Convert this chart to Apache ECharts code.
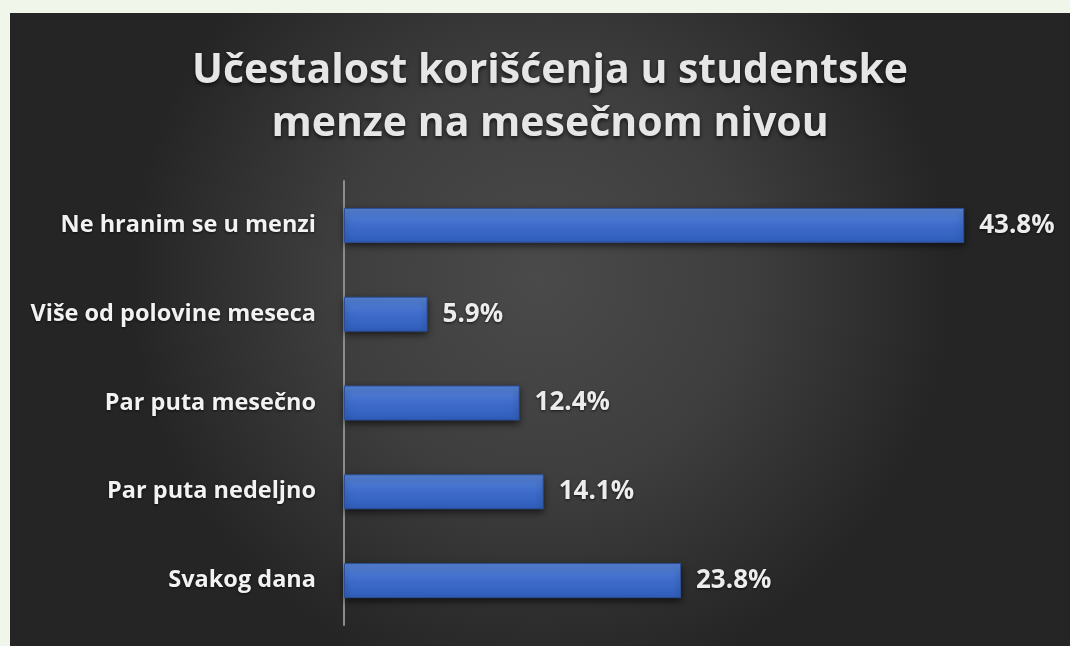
<!DOCTYPE html>
<html>
<head>
<meta charset="utf-8">
<script src="https://cdn.jsdelivr.net/npm/echarts@6/dist/echarts.min.js"></script>
<style>
  html, body { margin: 0; padding: 0; background: #f1f6ea; }
  #main { width: 1070px; height: 646px; }
</style>
</head>
<body>
<div id="main"></div>
<script>
const categories = ['Svakog dana', 'Par puta nedeljno', 'Par puta mesečno', 'Više od polovine meseca', 'Ne hranim se u menzi']
const values = [23.8, 14.1, 12.4, 5.9, 43.8]
const titleLines = ['Učestalost korišćenja u studentske', 'menze na mesečnom nivou']

const myChart = echarts.init(document.getElementById('main'))

myChart.setOption({
    backgroundColor: '#f1f6ea',
    graphic: [{
        type: 'rect',
        z: -10,
        silent: true,
        shape: { x: 10, y: 13, width: 1060, height: 633 },
        style: {
            fill: new echarts.graphic.RadialGradient(0.5, 0.42, 0.65, [
                { offset: 0, color: '#4a4a4a' },
                { offset: 0.5, color: '#3e3e3e' },
                { offset: 1, color: '#252525' }
            ])
        }
    }],
    title: {
        text: titleLines.join('\n'),
        left: 545,
        textAlign: 'center',
        top: 40,
        textStyle: {
            color: '#e6e6e6',
            fontFamily: 'Open Sans',
            fontWeight: 'bold',
            fontSize: 41,
            lineHeight: 53,
            textShadowColor: 'rgba(0,0,0,0.7)',
            textShadowBlur: 4,
            textShadowOffsetY: 2
        }
    },
    grid: {
        left: 344,
        top: 181,
        bottom: 21,
        right: 18,
        containLabel: false
    },
    xAxis: {
        type: 'value',
        min: 0,
        max: 50,
        show: false
    },
    yAxis: {
        type: 'category',
        data: categories,
        axisLine: { show: true, lineStyle: { color: '#8c8c8c', width: 2 } },
        axisTick: { show: false },
        axisLabel: {
            margin: 28,
            color: '#f2f2f2',
            fontFamily: 'Open Sans',
            fontWeight: 'bold',
            fontSize: 23.5,
            textShadowColor: 'rgba(0,0,0,0.7)',
            textShadowBlur: 3,
            textShadowOffsetY: 1
        },
        splitLine: { show: false }
    },
    series: [{
        type: 'bar',
        data: values,
        barWidth: 35,
        itemStyle: {
            color: new echarts.graphic.LinearGradient(0, 0, 0, 1, [
                { offset: 0, color: '#5886d8' },
                { offset: 0.5, color: '#3f6ccb' },
                { offset: 1, color: '#2f5ebc' }
            ]),
            borderColor: '#2b4f98',
            borderWidth: 1,
            shadowColor: 'rgba(0,0,0,0.65)',
            shadowBlur: 7,
            shadowOffsetY: 3
        },
        label: {
            show: true,
            position: 'right',
            distance: 15,
            formatter: p => p.value.toFixed(1) + '%',
            color: '#ececec',
            fontFamily: 'Open Sans',
            fontWeight: 'bold',
            fontSize: 26,
            textShadowColor: 'rgba(0,0,0,0.7)',
            textShadowBlur: 3,
            textShadowOffsetY: 1
        }
    }]
})
</script>
</body>
</html>
